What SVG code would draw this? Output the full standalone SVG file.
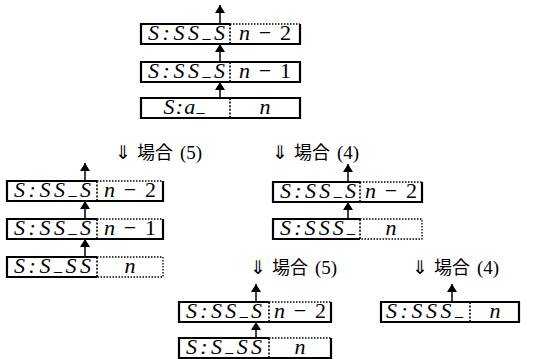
<svg xmlns="http://www.w3.org/2000/svg" width="535" height="359" viewBox="0 0 535 359">
<defs>
<marker id="ah" viewBox="0 0 8 10" refX="8" refY="5" markerWidth="8" markerHeight="10" markerUnits="userSpaceOnUse" orient="auto">
<path d="M0,0 L8,5 L0,10 z" fill="#000"/>
</marker>
</defs>
<style>
.b{fill:none;stroke:#000;stroke-width:2.2}
.d{fill:none;stroke:#000;stroke-width:1.6;stroke-dasharray:2 1.6}
.t{fill:none;stroke:#000;stroke-width:1.3;stroke-dasharray:1.5 1.5}
.a{fill:none;stroke:#000;stroke-width:1.5;marker-end:url(#ah)}
.m{font-family:"Liberation Serif","Times New Roman",serif;font-style:italic;font-size:22px}
.u{font-style:normal}
.s{font-size:16px;font-style:normal}
.j{font-family:"Noto Sans CJK JP",sans-serif;font-size:18px;font-style:normal}
.c{font-family:"Liberation Serif","Times New Roman",serif;font-size:19px}
</style>

<g id="connectors">
<line class="a" x1="220" y1="24" x2="220" y2="5"/>
<line class="a" x1="220" y1="62" x2="220" y2="44"/>
<line class="a" x1="220" y1="98" x2="220" y2="82"/>
<line class="a" x1="85" y1="181" x2="85" y2="163"/>
<line class="a" x1="85" y1="219" x2="85" y2="201"/>
<line class="a" x1="85" y1="257" x2="85" y2="239"/>
<line class="a" x1="348" y1="182" x2="348" y2="164"/>
<line class="a" x1="348" y1="219" x2="348" y2="202"/>
<line class="a" x1="256" y1="302" x2="256" y2="284"/>
<line class="a" x1="256" y1="338" x2="256" y2="322"/>
<line class="a" x1="452" y1="302" x2="452" y2="284"/>
</g>

<g id="top1">
<path class="b" d="M230,24 H141 V44 H300 V24"/>
<line class="t" x1="230" y1="24" x2="300" y2="24"/>
<line class="d" x1="230" y1="24" x2="230" y2="44"/>
<text class="m" x="148" y="40" textLength="77" lengthAdjust="spacing">S:SS<tspan class="s" dy="-2">_</tspan><tspan dy="2">S</tspan></text>
<text class="m" x="265" y="40" text-anchor="middle" textLength="52" lengthAdjust="spacing">n<tspan class="u" dx="3">−</tspan><tspan class="u" dx="3">2</tspan></text>
</g>
<g id="top2">
<path class="b" d="M141,62 H300 V82 H141 Z"/>
<line class="d" x1="230" y1="62" x2="230" y2="82"/>
<text class="m" x="148" y="78" textLength="77" lengthAdjust="spacing">S:SS<tspan class="s" dy="-2">_</tspan><tspan dy="2">S</tspan></text>
<text class="m" x="265" y="78" text-anchor="middle" textLength="52" lengthAdjust="spacing">n<tspan class="u" dx="3">−</tspan><tspan class="u" dx="3">1</tspan></text>
</g>
<g id="top3">
<path class="b" d="M141,98 H300 V118 H141 Z"/>
<line class="d" x1="230" y1="98" x2="230" y2="118"/>
<text class="m" x="184" y="114" text-anchor="middle" textLength="41" lengthAdjust="spacing">S:a<tspan class="s" dy="-2">_</tspan></text>
<text class="m" x="265" y="114" text-anchor="middle">n</text>
</g>

<g id="label1">
<text x="115" y="159" class="c">⇓<tspan class="j" dx="6">場合</tspan><tspan dx="7">(5)</tspan></text>
</g>
<g id="label2">
<text x="272" y="159" class="c">⇓<tspan class="j" dx="6">場合</tspan><tspan dx="7">(4)</tspan></text>
</g>

<g id="left1">
<path class="b" d="M97,181 H7 V201 H163 V181"/>
<line class="t" x1="97" y1="181" x2="163" y2="181"/>
<line class="d" x1="97" y1="181" x2="97" y2="201"/>
<text class="m" x="14" y="197" textLength="77" lengthAdjust="spacing">S:SS<tspan class="s" dy="-2">_</tspan><tspan dy="2">S</tspan></text>
<text class="m" x="130" y="197" text-anchor="middle" textLength="52" lengthAdjust="spacing">n<tspan class="u" dx="3">−</tspan><tspan class="u" dx="3">2</tspan></text>
</g>
<g id="left2">
<path class="b" d="M97,219 H7 V239 H163 V219"/>
<line class="t" x1="97" y1="219" x2="163" y2="219"/>
<line class="d" x1="97" y1="219" x2="97" y2="239"/>
<text class="m" x="14" y="235" textLength="77" lengthAdjust="spacing">S:SS<tspan class="s" dy="-2">_</tspan><tspan dy="2">S</tspan></text>
<text class="m" x="130" y="235" text-anchor="middle" textLength="52" lengthAdjust="spacing">n<tspan class="u" dx="3">−</tspan><tspan class="u" dx="3">1</tspan></text>
</g>
<g id="left3">
<path class="b" d="M97,257 H7 V277 H97"/>
<path class="t" d="M97,257 H163 V277 H97"/>
<line class="d" x1="97" y1="257" x2="97" y2="277"/>
<text class="m" x="14" y="273" textLength="77" lengthAdjust="spacing">S:S<tspan class="s" dy="-2">_</tspan><tspan dy="2">SS</tspan></text>
<text class="m" x="130" y="273" text-anchor="middle">n</text>
</g>

<g id="right1">
<path class="b" d="M360,182 H273 V202 H422 V182"/>
<line class="t" x1="360" y1="182" x2="422" y2="182"/>
<line class="d" x1="360" y1="182" x2="360" y2="202"/>
<text class="m" x="280" y="198" textLength="76" lengthAdjust="spacing">S:SS<tspan class="s" dy="-2">_</tspan><tspan dy="2">S</tspan></text>
<text class="m" x="391" y="198" text-anchor="middle" textLength="52" lengthAdjust="spacing">n<tspan class="u" dx="3">−</tspan><tspan class="u" dx="3">2</tspan></text>
</g>
<g id="right2">
<path class="b" d="M360,219 H273 V239 H360"/>
<path class="t" d="M360,219 H422 V239 H360"/>
<line class="d" x1="360" y1="219" x2="360" y2="239"/>
<text class="m" x="280" y="235" textLength="75" lengthAdjust="spacing">S:SSS<tspan class="s" dy="-2">_</tspan></text>
<text class="m" x="391" y="235" text-anchor="middle">n</text>
</g>

<g id="label3">
<text x="250" y="274" class="c">⇓<tspan class="j" dx="6">場合</tspan><tspan dx="7">(5)</tspan></text>
</g>
<g id="label4">
<text x="412" y="274" class="c">⇓<tspan class="j" dx="6">場合</tspan><tspan dx="7">(4)</tspan></text>
</g>

<g id="mid1">
<path class="b" d="M269,302 H179 V322 H331 V302"/>
<line class="t" x1="269" y1="302" x2="331" y2="302"/>
<line class="d" x1="269" y1="302" x2="269" y2="322"/>
<text class="m" x="186" y="318" textLength="76" lengthAdjust="spacing">S:SS<tspan class="s" dy="-2">_</tspan><tspan dy="2">S</tspan></text>
<text class="m" x="300" y="318" text-anchor="middle" textLength="52" lengthAdjust="spacing">n<tspan class="u" dx="3">−</tspan><tspan class="u" dx="3">2</tspan></text>
</g>
<g id="mid2">
<path class="b" d="M269,338 H179 V358 H331 V338"/>
<line class="t" x1="269" y1="338" x2="331" y2="338"/>
<line class="d" x1="269" y1="338" x2="269" y2="358"/>
<text class="m" x="186" y="354" textLength="76" lengthAdjust="spacing">S:S<tspan class="s" dy="-2">_</tspan><tspan dy="2">SS</tspan></text>
<text class="m" x="300" y="354" text-anchor="middle">n</text>
</g>

<g id="br1">
<path class="b" d="M381,302 H519 V322 H381 Z"/>
<line class="d" x1="470" y1="302" x2="470" y2="322"/>
<text class="m" x="386" y="318" textLength="77" lengthAdjust="spacing">S:SSS<tspan class="s" dy="-2">_</tspan></text>
<text class="m" x="495" y="318" text-anchor="middle">n</text>
</g>
</svg>
